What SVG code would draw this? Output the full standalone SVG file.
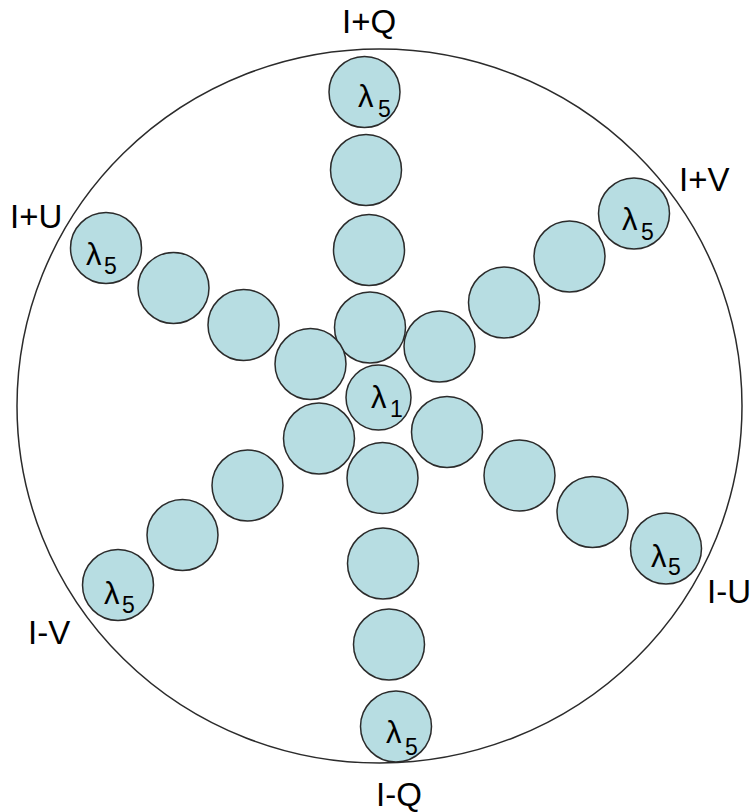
<svg xmlns="http://www.w3.org/2000/svg" width="752" height="812" viewBox="0 0 752 812">
<style>
.c{fill:#b7dde2;stroke:#2b2b2b;stroke-width:1.5}
.l{font-family:"Liberation Sans",Arial,sans-serif;font-size:33px;fill:#000}
.g{font-family:"Liberation Sans",Arial,sans-serif;font-size:31px;fill:#000}
.s{font-family:"Liberation Sans",Arial,sans-serif;font-size:23px;fill:#000}
</style>
<rect width="752" height="812" fill="#fff"/>
<g id="boundary"><ellipse cx="379.5" cy="406" rx="362.5" ry="357" fill="none" stroke="#2b2b2b" stroke-width="1.5"/></g>
<g id="labels">
<text class="l" x="342" y="33">I+Q</text>
<text class="l" x="376" y="806">I-Q</text>
<text class="l" x="10" y="228">I+U</text>
<text class="l" x="679" y="191">I+V</text>
<text class="l" x="707" y="603">I-U</text>
<text class="l" x="28" y="644">I-V</text>
</g>
<g id="arm-plusQ">
<circle class="c" cx="370" cy="327.5" r="35.5"/>
<circle class="c" cx="369" cy="250" r="35.5"/>
<circle class="c" cx="366" cy="170" r="35.5"/>
<g id="plusQ-l5"><circle class="c" cx="364.5" cy="92" r="35.5"/><text><tspan class="g" x="358" y="107">λ</tspan><tspan class="s" x="378" y="117">5</tspan></text></g>
</g>
<g id="arm-plusU">
<circle class="c" cx="310.5" cy="364" r="35.5"/>
<circle class="c" cx="243.5" cy="325" r="35.5"/>
<circle class="c" cx="173.5" cy="288" r="35.5"/>
<g id="plusU-l5"><circle class="c" cx="106" cy="248" r="35.5"/><text><tspan class="g" x="86" y="265">λ</tspan><tspan class="s" x="104" y="274">5</tspan></text></g>
</g>
<g id="arm-plusV">
<circle class="c" cx="439.5" cy="346.5" r="35.5"/>
<circle class="c" cx="504" cy="302.5" r="35.5"/>
<circle class="c" cx="569.5" cy="256.5" r="35.5"/>
<g id="plusV-l5"><circle class="c" cx="634" cy="213.5" r="35.5"/><text><tspan class="g" x="622" y="230">λ</tspan><tspan class="s" x="641" y="240">5</tspan></text></g>
</g>
<g id="arm-minusU">
<circle class="c" cx="447" cy="432" r="35.5"/>
<circle class="c" cx="519.5" cy="475.5" r="35.5"/>
<circle class="c" cx="592.5" cy="512" r="35.5"/>
<g id="minusU-l5"><circle class="c" cx="666" cy="548.5" r="35.5"/><text><tspan class="g" x="651" y="567">λ</tspan><tspan class="s" x="668" y="575">5</tspan></text></g>
</g>
<g id="arm-minusV">
<circle class="c" cx="319" cy="438.5" r="35.5"/>
<circle class="c" cx="247.5" cy="485.5" r="35.5"/>
<circle class="c" cx="182.5" cy="535" r="35.5"/>
<g id="minusV-l5"><circle class="c" cx="118" cy="585" r="35.5"/><text><tspan class="g" x="104" y="604">λ</tspan><tspan class="s" x="122" y="613">5</tspan></text></g>
</g>
<g id="arm-minusQ">
<circle class="c" cx="382.5" cy="478" r="35.5"/>
<circle class="c" cx="383" cy="563.5" r="35.5"/>
<circle class="c" cx="389" cy="644.5" r="35.5"/>
<g id="minusQ-l5"><circle class="c" cx="396" cy="726.5" r="35.5"/><text><tspan class="g" x="386" y="743">λ</tspan><tspan class="s" x="405" y="755">5</tspan></text></g>
</g>
<g id="center-l1"><circle class="c" cx="378.5" cy="397.5" r="32.5"/><text><tspan class="g" x="371" y="408">λ</tspan><tspan class="s" x="390" y="417">1</tspan></text></g>
</svg>
